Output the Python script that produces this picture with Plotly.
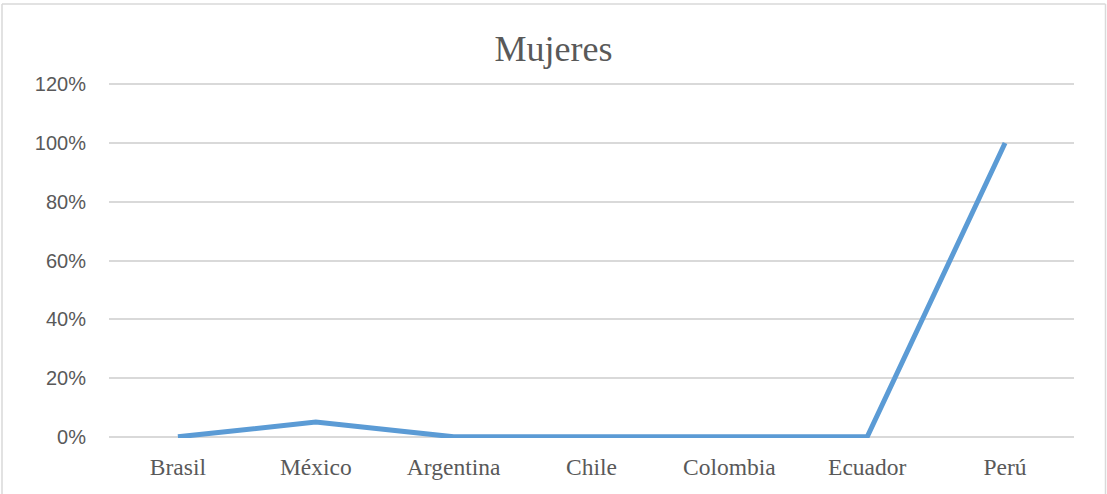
import plotly.graph_objects as go

# Share of women by country
paises = ["Brasil", "México", "Argentina", "Chile", "Colombia", "Ecuador", "Perú"]
mujeres = [0.0, 0.05, 0.0, 0.0, 0.0, 0.0, 1.0]
y_ticks = [0, 0.2, 0.4, 0.6, 0.8, 1.0, 1.2]
y_tick_labels = ["0%", "20%", "40%", "60%", "80%", "100%", "120%"]

W, H = 1107, 494
L, R, T, B = 109, 33, 83, 56
pw, ph = W - L - R, H - T - B


def px_x(x):
    return (x - L) / pw


def px_y(y):
    return (H - B - y) / ph


fig = go.Figure()
fig.add_trace(go.Scatter(
    x=paises, y=mujeres, mode="lines",
    line=dict(color="#5B9BD5", width=5),
    cliponaxis=False,
    hoverinfo="x+y",
))

border = dict(color="#D9D9D9", width=1.5)
fig.update_layout(
    width=W, height=H,
    margin=dict(l=L, r=R, t=T, b=B),
    paper_bgcolor="white", plot_bgcolor="white",
    showlegend=False,
    title=dict(
        text="Mujeres", x=0.5, xanchor="center", y=1 - 48 / H, yanchor="middle",
        font=dict(family="Liberation Serif", size=36, color="#595959"),
    ),
    xaxis=dict(
        showgrid=False, zeroline=False, showline=False,
        ticks="outside", ticklen=8, tickcolor="rgba(0,0,0,0)",
        tickfont=dict(family="Liberation Serif", size=23.5, color="#595959"),
        range=[-0.5, 6.5],
    ),
    yaxis=dict(
        range=[-0.004, 1.204], tickvals=y_ticks, ticktext=y_tick_labels,
        showgrid=True, gridcolor="#D9D9D9", gridwidth=1.5,
        zeroline=False, showline=False,
        ticks="outside", ticklen=18, tickcolor="rgba(0,0,0,0)",
        tickfont=dict(family="Liberation Sans", size=20, color="#595959"),
    ),
    shapes=[
        dict(type="line", xref="paper", yref="paper",
             x0=px_x(2), x1=px_x(1105.5), y0=px_y(4), y1=px_y(4), line=border),
        dict(type="line", xref="paper", yref="paper",
             x0=px_x(2), x1=px_x(2), y0=px_y(4), y1=px_y(H + 5), line=border),
        dict(type="line", xref="paper", yref="paper",
             x0=px_x(1105.5), x1=px_x(1105.5), y0=px_y(4), y1=px_y(H + 5), line=border),
    ],
)

fig.write_html("out.html")
